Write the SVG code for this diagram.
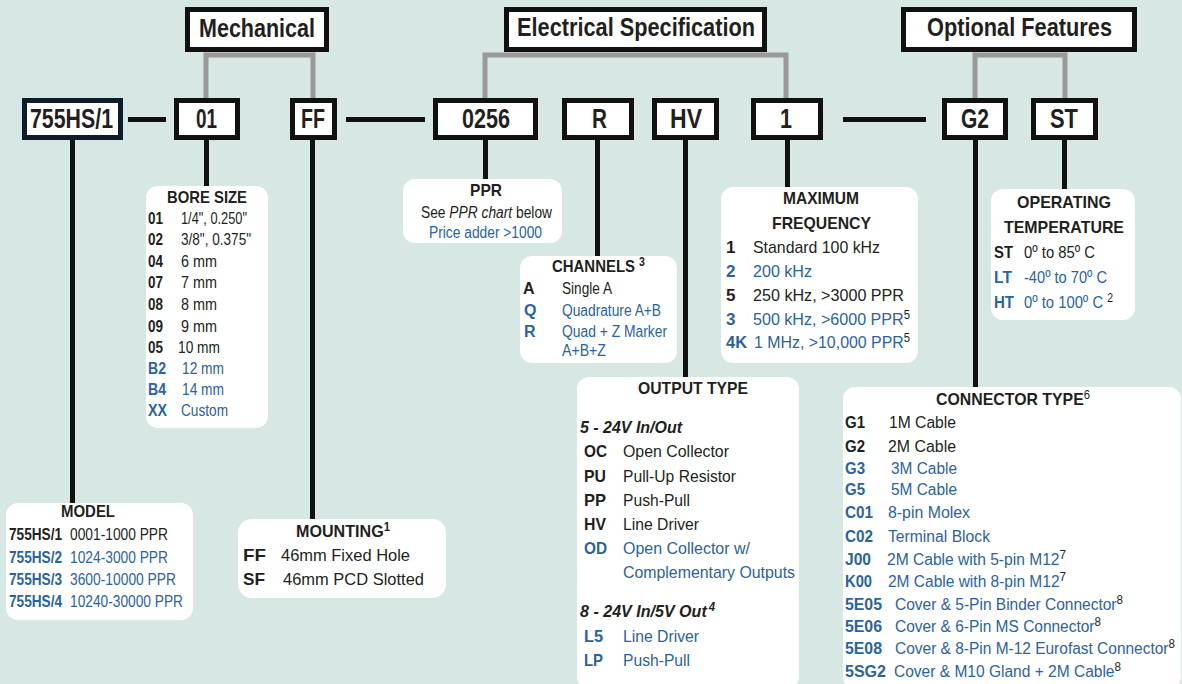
<svg xmlns="http://www.w3.org/2000/svg" width="1182" height="684" viewBox="0 0 1182 684">
<style>
text{font-family:"Liberation Sans",Arial,sans-serif;fill:#231f20}
.hdr{font-size:25px;font-weight:bold}
.cd{font-size:27px;font-weight:bold}
.ti{font-size:17px;font-weight:bold}
.k{font-size:16px;font-weight:bold}
.v{font-size:16px}
.k17{font-size:17px;font-weight:bold}
.v17{font-size:17px}
.bi{font-size:17px;font-weight:bold;font-style:italic}
.sup{font-size:12px;fill:#231f20}
.bl{fill:#2a63a1}
.hbox{fill:#fff;stroke:#111;stroke-width:5}
.cbox{fill:#fff;stroke:#111;stroke-width:5}
.info{fill:#fff}
.gray{fill:none;stroke:#9a9a9a;stroke-width:5}
.blk{fill:none;stroke:#111;stroke-width:5}
</style>
<rect width="1182" height="684" fill="#d7e7e4"/>
<g id="connectors">
<path class="gray" d="M206,98 V55 H313 V98"/>
<path class="gray" d="M485,98 V55 H786 V98"/>
<path class="gray" d="M975,98 V55 H1065 V98"/>
<path class="blk" d="M128,119.5 H166 M346,119.5 H425 M843,119.5 H926"/>
<path class="blk" d="M72.5,138 V505 M206.5,138 V188 M312.5,138 V521 M485.5,138 V181 M597.5,138 V258 M685.5,138 V379 M787.5,138 V189 M975.5,138 V389 M1064.5,138 V191"/>
</g>
<g id="hdr-mechanical"><rect class="hbox" x="187.5" y="9.5" width="139" height="40"/><text class="hdr" x="199" y="37" textLength="116" lengthAdjust="spacingAndGlyphs">Mechanical</text></g>
<g id="hdr-electrical"><rect class="hbox" x="506.5" y="9.5" width="258" height="40"/><text class="hdr" x="517" y="36" textLength="238" lengthAdjust="spacingAndGlyphs">Electrical Specification</text></g>
<g id="hdr-optional"><rect class="hbox" x="903.5" y="9.5" width="231" height="40"/><text class="hdr" x="927" y="36" textLength="185" lengthAdjust="spacingAndGlyphs">Optional Features</text></g>
<g id="code-model"><rect class="cbox" x="24.5" y="100.5" width="96" height="37" style="stroke:#0e1d29"/><text class="cd" x="30" y="128" textLength="83" lengthAdjust="spacingAndGlyphs">755HS/1</text></g>
<g id="code-bore"><rect class="cbox" x="176.5" y="100.5" width="61" height="37"/><text class="cd" x="196" y="128" textLength="21" lengthAdjust="spacingAndGlyphs">01</text></g>
<g id="code-mount"><rect class="cbox" x="292.5" y="100.5" width="42" height="37"/><text class="cd" x="301" y="128" textLength="24" lengthAdjust="spacingAndGlyphs">FF</text></g>
<g id="code-ppr"><rect class="cbox" x="435.5" y="100.5" width="100" height="37"/><text class="cd" x="462" y="128" textLength="48" lengthAdjust="spacingAndGlyphs">0256</text></g>
<g id="code-channels"><rect class="cbox" x="564.5" y="100.5" width="67" height="37"/><text class="cd" x="592" y="128" textLength="15" lengthAdjust="spacingAndGlyphs">R</text></g>
<g id="code-output"><rect class="cbox" x="654.5" y="100.5" width="62" height="37"/><text class="cd" x="670" y="128" textLength="32" lengthAdjust="spacingAndGlyphs">HV</text></g>
<g id="code-freq"><rect class="cbox" x="753.5" y="100.5" width="67" height="37"/><text class="cd" x="780" y="128" textLength="12" lengthAdjust="spacingAndGlyphs">1</text></g>
<g id="code-connector"><rect class="cbox" x="944.5" y="100.5" width="61" height="37"/><text class="cd" x="961" y="128" textLength="28" lengthAdjust="spacingAndGlyphs">G2</text></g>
<g id="code-temp"><rect class="cbox" x="1033.5" y="100.5" width="62" height="37"/><text class="cd" x="1050" y="128" textLength="28" lengthAdjust="spacingAndGlyphs">ST</text></g>

<g id="info-bore">
<rect class="info" x="146" y="186" width="122" height="242" rx="12"/>
<text class="ti" x="167" y="203" textLength="80" lengthAdjust="spacingAndGlyphs">BORE SIZE</text>
<text class="k17" x="148" y="224" textLength="15" lengthAdjust="spacingAndGlyphs">01</text><text class="v17" x="181" y="224" textLength="66" lengthAdjust="spacingAndGlyphs">1/4", 0.250"</text>
<text class="k17" x="148" y="245" textLength="15" lengthAdjust="spacingAndGlyphs">02</text><text class="v17" x="181" y="245" textLength="70" lengthAdjust="spacingAndGlyphs">3/8", 0.375"</text>
<text class="k17" x="148" y="267" textLength="15" lengthAdjust="spacingAndGlyphs">04</text><text class="v17" x="181" y="267" textLength="36" lengthAdjust="spacingAndGlyphs">6 mm</text>
<text class="k17" x="148" y="288" textLength="15" lengthAdjust="spacingAndGlyphs">07</text><text class="v17" x="181" y="288" textLength="36" lengthAdjust="spacingAndGlyphs">7 mm</text>
<text class="k17" x="148" y="310" textLength="15" lengthAdjust="spacingAndGlyphs">08</text><text class="v17" x="181" y="310" textLength="36" lengthAdjust="spacingAndGlyphs">8 mm</text>
<text class="k17" x="148" y="332" textLength="15" lengthAdjust="spacingAndGlyphs">09</text><text class="v17" x="181" y="332" textLength="36" lengthAdjust="spacingAndGlyphs">9 mm</text>
<text class="k17" x="148" y="353" textLength="15" lengthAdjust="spacingAndGlyphs">05</text><text class="v17" x="178" y="353" textLength="42" lengthAdjust="spacingAndGlyphs">10 mm</text>
<text class="k17 bl" x="148" y="374" textLength="18" lengthAdjust="spacingAndGlyphs">B2</text><text class="v17 bl" x="182" y="374" textLength="42" lengthAdjust="spacingAndGlyphs">12 mm</text>
<text class="k17 bl" x="148" y="395" textLength="18" lengthAdjust="spacingAndGlyphs">B4</text><text class="v17 bl" x="182" y="395" textLength="42" lengthAdjust="spacingAndGlyphs">14 mm</text>
<text class="k17 bl" x="148" y="416" textLength="19" lengthAdjust="spacingAndGlyphs">XX</text><text class="v17 bl" x="181" y="416" textLength="47" lengthAdjust="spacingAndGlyphs">Custom</text>
</g>

<g id="info-ppr">
<rect class="info" x="403" y="179" width="159" height="64" rx="12"/>
<text class="ti" x="470" y="196" textLength="32" lengthAdjust="spacingAndGlyphs">PPR</text>
<text class="v" x="421" y="218" textLength="131" lengthAdjust="spacingAndGlyphs">See <tspan font-style="italic">PPR chart</tspan> below</text>
<text class="v bl" x="429" y="238" textLength="113" lengthAdjust="spacingAndGlyphs">Price adder &gt;1000</text>
</g>

<g id="info-channels">
<rect class="info" x="520" y="256" width="157" height="107" rx="12"/>
<text class="ti" x="552" y="272" textLength="93" lengthAdjust="spacingAndGlyphs">CHANNELS <tspan class="sup" dy="-6">3</tspan></text>
<text class="k" x="523" y="294">A</text><text class="v" x="562" y="294" textLength="50" lengthAdjust="spacingAndGlyphs">Single A</text>
<text class="k bl" x="524" y="316">Q</text><text class="v bl" x="562" y="316" textLength="99" lengthAdjust="spacingAndGlyphs">Quadrature A+B</text>
<text class="k bl" x="524" y="337">R</text><text class="v bl" x="562" y="337" textLength="105" lengthAdjust="spacingAndGlyphs">Quad + Z Marker</text>
<text class="v bl" x="562" y="356" textLength="44" lengthAdjust="spacingAndGlyphs">A+B+Z</text>
</g>

<g id="info-freq">
<rect class="info" x="721" y="187" width="197" height="176" rx="12"/>
<text class="ti" x="783" y="204" textLength="76" lengthAdjust="spacingAndGlyphs">MAXIMUM</text>
<text class="ti" x="772" y="229" textLength="99" lengthAdjust="spacingAndGlyphs">FREQUENCY</text>
<text class="k17" x="726" y="253">1</text><text class="v17" x="753" y="253" textLength="127" lengthAdjust="spacingAndGlyphs">Standard 100 kHz</text>
<text class="k17 bl" x="726" y="277">2</text><text class="v17 bl" x="753" y="277" textLength="59" lengthAdjust="spacingAndGlyphs">200 kHz</text>
<text class="k17" x="726" y="301">5</text><text class="v17" x="753" y="301" textLength="151" lengthAdjust="spacingAndGlyphs">250 kHz, &gt;3000 PPR</text>
<text class="k17 bl" x="726" y="325">3</text><text class="v17 bl" x="753" y="325" textLength="157" lengthAdjust="spacingAndGlyphs">500 kHz, &gt;6000 PPR<tspan class="sup" dy="-6">5</tspan></text>
<text class="k17 bl" x="726" y="348" textLength="21" lengthAdjust="spacingAndGlyphs">4K</text><text class="v17 bl" x="754" y="348" textLength="156" lengthAdjust="spacingAndGlyphs">1 MHz, &gt;10,000 PPR<tspan class="sup" dy="-6">5</tspan></text>
</g>

<g id="info-temp">
<rect class="info" x="991" y="189" width="144" height="131" rx="12"/>
<text class="ti" x="1017" y="208" textLength="94" lengthAdjust="spacingAndGlyphs">OPERATING</text>
<text class="ti" x="1004" y="233" textLength="120" lengthAdjust="spacingAndGlyphs">TEMPERATURE</text>
<text class="k17" x="994" y="258" textLength="19" lengthAdjust="spacingAndGlyphs">ST</text><text class="v17" x="1024" y="258" textLength="71" lengthAdjust="spacingAndGlyphs">0º to 85º C</text>
<text class="k17 bl" x="994" y="283" textLength="18" lengthAdjust="spacingAndGlyphs">LT</text><text class="v17 bl" x="1024" y="283" textLength="83" lengthAdjust="spacingAndGlyphs">-40º to 70º C</text>
<text class="k17 bl" x="994" y="308" textLength="20" lengthAdjust="spacingAndGlyphs">HT</text><text class="v17 bl" x="1024" y="308" textLength="89" lengthAdjust="spacingAndGlyphs">0º to 100º C <tspan class="sup" dy="-6">2</tspan></text>
</g>

<g id="info-model">
<rect class="info" x="6" y="503" width="187" height="117" rx="12"/>
<text class="ti" x="61" y="517" textLength="54" lengthAdjust="spacingAndGlyphs">MODEL</text>
<text class="k" x="9" y="540" textLength="53" lengthAdjust="spacingAndGlyphs">755HS/1</text><text class="v" x="70" y="540" textLength="98" lengthAdjust="spacingAndGlyphs">0001-1000 PPR</text>
<text class="k bl" x="9" y="563" textLength="53" lengthAdjust="spacingAndGlyphs">755HS/2</text><text class="v bl" x="70" y="563" textLength="98" lengthAdjust="spacingAndGlyphs">1024-3000 PPR</text>
<text class="k bl" x="9" y="585" textLength="53" lengthAdjust="spacingAndGlyphs">755HS/3</text><text class="v bl" x="70" y="585" textLength="106" lengthAdjust="spacingAndGlyphs">3600-10000 PPR</text>
<text class="k bl" x="9" y="607" textLength="53" lengthAdjust="spacingAndGlyphs">755HS/4</text><text class="v bl" x="70" y="607" textLength="113" lengthAdjust="spacingAndGlyphs">10240-30000 PPR</text>
</g>

<g id="info-mounting">
<rect class="info" x="238" y="519" width="208" height="79" rx="14"/>
<text class="ti" x="296" y="537" textLength="94" lengthAdjust="spacingAndGlyphs">MOUNTING<tspan class="sup" dy="-6">1</tspan></text>
<text class="k17" x="243" y="561" font-size="18" textLength="23" lengthAdjust="spacingAndGlyphs">FF</text><text class="v17" x="281" y="561" font-size="18" textLength="129" lengthAdjust="spacingAndGlyphs">46mm Fixed Hole</text>
<text class="k17" x="243" y="585" font-size="18" textLength="22" lengthAdjust="spacingAndGlyphs">SF</text><text class="v17" x="283" y="585" font-size="18" textLength="141" lengthAdjust="spacingAndGlyphs">46mm PCD Slotted</text>
</g>

<g id="info-output">
<rect class="info" x="577" y="377" width="222" height="312" rx="12"/>
<text class="ti" x="638" y="394" textLength="110" lengthAdjust="spacingAndGlyphs">OUTPUT TYPE</text>
<text class="bi" x="580" y="433" textLength="102" lengthAdjust="spacingAndGlyphs">5 - 24V In/Out</text>
<text class="k17" x="584" y="457" textLength="23" lengthAdjust="spacingAndGlyphs">OC</text><text class="v17" x="623" y="457" textLength="106" lengthAdjust="spacingAndGlyphs">Open Collector</text>
<text class="k17" x="584" y="482" textLength="22" lengthAdjust="spacingAndGlyphs">PU</text><text class="v17" x="623" y="482" textLength="113" lengthAdjust="spacingAndGlyphs">Pull-Up Resistor</text>
<text class="k17" x="584" y="506" textLength="22" lengthAdjust="spacingAndGlyphs">PP</text><text class="v17" x="623" y="506" textLength="67" lengthAdjust="spacingAndGlyphs">Push-Pull</text>
<text class="k17" x="584" y="530" textLength="22" lengthAdjust="spacingAndGlyphs">HV</text><text class="v17" x="623" y="530" textLength="76" lengthAdjust="spacingAndGlyphs">Line Driver</text>
<text class="k17 bl" x="584" y="554" textLength="23" lengthAdjust="spacingAndGlyphs">OD</text><text class="v17 bl" x="623" y="554" textLength="127" lengthAdjust="spacingAndGlyphs">Open Collector w/</text>
<text class="v17 bl" x="623" y="578" textLength="172" lengthAdjust="spacingAndGlyphs">Complementary Outputs</text>
<text class="bi" x="580" y="617" textLength="135" lengthAdjust="spacingAndGlyphs">8 - 24V In/5V Out<tspan class="sup" dx="2" dy="-6">4</tspan></text>
<text class="k17 bl" x="584" y="642" textLength="19" lengthAdjust="spacingAndGlyphs">L5</text><text class="v17 bl" x="623" y="642" textLength="76" lengthAdjust="spacingAndGlyphs">Line Driver</text>
<text class="k17 bl" x="584" y="666" textLength="19" lengthAdjust="spacingAndGlyphs">LP</text><text class="v17 bl" x="623" y="666" textLength="67" lengthAdjust="spacingAndGlyphs">Push-Pull</text>
</g>

<g id="info-connector">
<rect class="info" x="843" y="387" width="338" height="302" rx="12"/>
<text class="ti" x="936" y="405" textLength="154" lengthAdjust="spacingAndGlyphs">CONNECTOR TYPE<tspan class="sup" font-weight="normal" dy="-6">6</tspan></text>
<text class="k" x="845" y="428" textLength="20" lengthAdjust="spacingAndGlyphs">G1</text><text class="v" x="889" y="428" textLength="67" lengthAdjust="spacingAndGlyphs">1M Cable</text>
<text class="k" x="845" y="452" textLength="20" lengthAdjust="spacingAndGlyphs">G2</text><text class="v" x="888" y="452" textLength="68" lengthAdjust="spacingAndGlyphs">2M Cable</text>
<text class="k bl" x="845" y="474" textLength="20" lengthAdjust="spacingAndGlyphs">G3</text><text class="v bl" x="891" y="474" textLength="66" lengthAdjust="spacingAndGlyphs">3M Cable</text>
<text class="k bl" x="845" y="495" textLength="20" lengthAdjust="spacingAndGlyphs">G5</text><text class="v bl" x="891" y="495" textLength="66" lengthAdjust="spacingAndGlyphs">5M Cable</text>
<text class="k bl" x="845" y="518" textLength="28" lengthAdjust="spacingAndGlyphs">C01</text><text class="v bl" x="888" y="518" textLength="82" lengthAdjust="spacingAndGlyphs">8-pin Molex</text>
<text class="k bl" x="845" y="542" textLength="28" lengthAdjust="spacingAndGlyphs">C02</text><text class="v bl" x="888" y="542" textLength="102" lengthAdjust="spacingAndGlyphs">Terminal Block</text>
<text class="k bl" x="845" y="565" textLength="26" lengthAdjust="spacingAndGlyphs">J00</text><text class="v bl" x="887" y="565" textLength="179" lengthAdjust="spacingAndGlyphs">2M Cable with 5-pin M12<tspan class="sup" dy="-6">7</tspan></text>
<text class="k bl" x="845" y="587" textLength="27" lengthAdjust="spacingAndGlyphs">K00</text><text class="v bl" x="888" y="587" textLength="178" lengthAdjust="spacingAndGlyphs">2M Cable with 8-pin M12<tspan class="sup" dy="-6">7</tspan></text>
<text class="k bl" x="845" y="610" textLength="37" lengthAdjust="spacingAndGlyphs">5E05</text><text class="v bl" x="895" y="610" textLength="228" lengthAdjust="spacingAndGlyphs">Cover &amp; 5-Pin Binder Connector<tspan class="sup" dy="-6">8</tspan></text>
<text class="k bl" x="845" y="632" textLength="37" lengthAdjust="spacingAndGlyphs">5E06</text><text class="v bl" x="895" y="632" textLength="206" lengthAdjust="spacingAndGlyphs">Cover &amp; 6-Pin MS Connector<tspan class="sup" dy="-6">8</tspan></text>
<text class="k bl" x="845" y="654" textLength="37" lengthAdjust="spacingAndGlyphs">5E08</text><text class="v bl" x="895" y="654" textLength="280" lengthAdjust="spacingAndGlyphs">Cover &amp; 8-Pin M-12 Eurofast Connector<tspan class="sup" dy="-6">8</tspan></text>
<text class="k bl" x="845" y="677" textLength="41" lengthAdjust="spacingAndGlyphs">5SG2</text><text class="v bl" x="894" y="677" textLength="227" lengthAdjust="spacingAndGlyphs">Cover &amp; M10 Gland + 2M Cable<tspan class="sup" dy="-6">8</tspan></text>
</g>
</svg>
